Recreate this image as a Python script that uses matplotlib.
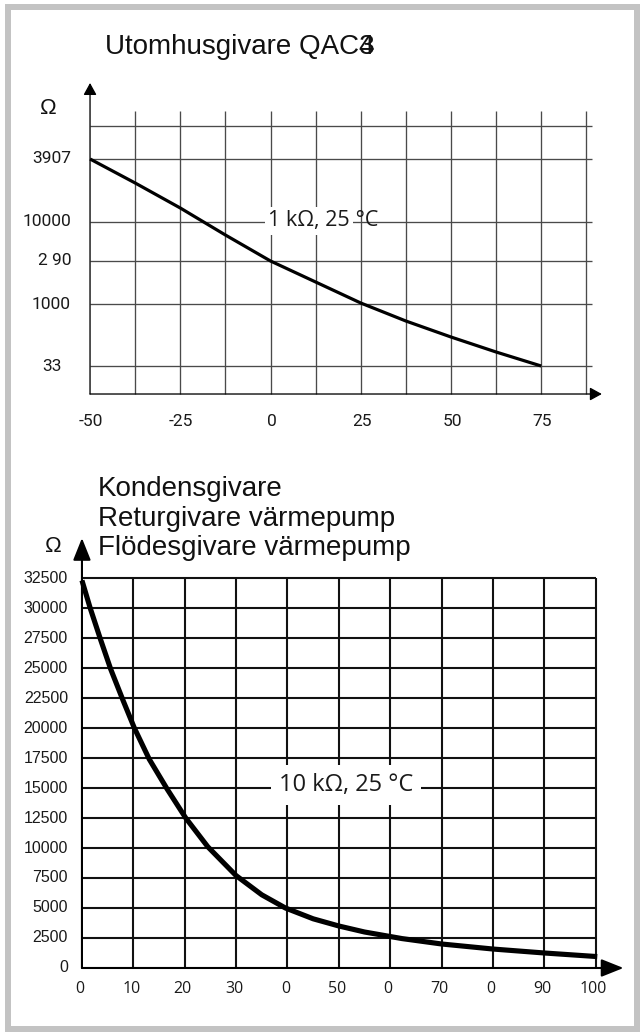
import matplotlib
matplotlib.use("Agg")
import matplotlib.pyplot as plt
from matplotlib.patches import Rectangle

# --------------------------------------------------------------
# Utomhusgivare QAC34 (1 kOhm, 25 °C)
top_temp = [-50, -37.5, -25, -12.5, 0, 12.5, 25, 37.5, 50, 62.5, 75]
top_level = [235, 211, 186, 159, 133, 112, 91, 73, 57, 42, 28]
top_xgrid = [-50, -37.5, -25, -12.5, 0, 12.5, 25, 37.5, 50, 62.5, 75, 87.5]
top_xticks = [-50, -25, 0, 25, 50, 75]
top_xticklabels = ["-50", "-25", "0", "25", "50", "75"]
top_ygrid = [28, 90, 133, 172, 235, 268]
top_yticks = [235, 172, 133, 90, 28]
top_yticklabels = ["3907", "10000", "2 90", "1000", "33"]

# Kondens-/retur-/flödesgivare (10 kOhm, 25 °C)
bot_temp = [0, 1.6, 3.6, 5.6, 8.0, 10.2, 13.1, 16.6, 20.2, 24.5, 30, 35,
            39.6, 45, 50, 55, 62.3, 70, 80, 90, 100.3]
bot_ohm = [32300, 30000, 27400, 24900, 22300, 20000, 17400, 14900, 12500,
           10100, 7700, 6100, 5000, 4100, 3500, 3000, 2450, 2000, 1580,
           1250, 950]
bot_xgrid = [0, 10, 20, 30, 40, 50, 60, 70, 80, 90, 100]
bot_xticklabels = ["0", "10", "20", "30", "0", "50", "0", "70", "0", "90", "100"]
bot_ygrid = [0, 2500, 5000, 7500, 10000, 12500, 15000, 17500, 20000,
             22500, 25000, 27500, 30000, 32500]
bot_yticklabels = ["0", "2500", "5000", "7500", "10000", "12500", "15000",
                   "17500", "20000", "22500", "25000", "27500", "30000", "32500"]
bot_titles = ["Kondensgivare", "Returgivare värmepump", "Flödesgivare värmepump"]
# --------------------------------------------------------------

fig = plt.figure(figsize=(6.4, 10.32), dpi=100)
fig.patch.set_facecolor("white")

# grå ram runt hela bilden
fig.patches.append(Rectangle((8 / 640, 3 / 1032), 629 / 640, 1022 / 1032,
                             transform=fig.transFigure, fill=False,
                             edgecolor="#c3c3c3", linewidth=4.3))

# ---------------------------- övre diagram ---------------------
ax1 = fig.add_axes([0.1294, 0.6153, 0.8234, 0.3072])
ax1.set_xlim(-52, 94)
ax1.set_ylim(-3, 314)
ax1.axis("off")

ax1.hlines(top_ygrid, -50, 89.1, color="#4a4a4a", linewidth=0.95, zorder=1)
ax1.vlines(top_xgrid[1:], 0, 283, color="#4a4a4a", linewidth=0.95, zorder=1)
ax1.plot(top_temp, top_level, color="black", linewidth=2.3,
         solid_capstyle="butt", solid_joinstyle="round", zorder=3)

arrow_small = dict(arrowstyle="-|>,head_length=0.4,head_width=0.22",
                   mutation_scale=18, color="black", linewidth=0.95,
                   shrinkA=0, shrinkB=0)
ax1.annotate("", xy=(91.8, 0), xytext=(-50, 0), arrowprops=arrow_small)
ax1.annotate("", xy=(-50, 311), xytext=(-50, 0), arrowprops=arrow_small)

for t, lab in zip(top_xticks, top_xticklabels):
    ax1.annotate(lab, xy=(t, 0), xytext=(1, -27), textcoords="offset pixels",
                 ha="center", va="center", fontsize=12.5, family="Roboto",
                 color="#1a1a1a")
for y, lab in zip(top_yticks, top_yticklabels):
    dx = -28 if lab == "33" else -19
    ax1.annotate(lab, xy=(-50, y), xytext=(dx, 0), textcoords="offset pixels",
                 ha="right", va="center", fontsize=12.5, family="Roboto",
                 color="#1a1a1a")

t1 = ax1.text(-0.7, 173, "1 k\u03a9, 25", ha="left", va="center",
              fontsize=15.5, family="Open Sans", color="#1a1a1a", zorder=5,
              bbox=dict(boxstyle="square,pad=0.15", facecolor="white",
                        edgecolor="none"))
ax1.annotate(" \u00b0C", xy=(1, 0.5), xycoords=t1, ha="left", va="center",
             fontsize=15.5, family="Open Sans", color="#1a1a1a", zorder=5)

# rubrik, 4:an ligger ovanpå 3:an
fig.text(105 / 640, 1 - 47 / 1032, "Utomhusgivare QAC3", ha="left",
         va="center", fontsize=20, family="Liberation Sans", color="#111111")
fig.canvas.draw()
rend = fig.canvas.get_renderer()
tmp = fig.text(105 / 640, 1 - 47 / 1032, "Utomhusgivare QAC", ha="left",
               va="center", fontsize=20, family="Liberation Sans")
ext = tmp.get_window_extent(rend)
tmp.remove()
fig.text((ext.x1 - 1) / 640, 1 - 47 / 1032, "4", ha="left", va="center",
         fontsize=20, family="Liberation Sans", color="#111111")

fig.text(48 / 640, 1 - 108 / 1032, "\u03a9", ha="center", va="center",
         fontsize=16, family="Liberation Sans", color="#111111")

# ---------------------------- nedre diagram --------------------
ax2 = fig.add_axes([0.1120, 0.0504, 0.875, 0.4360])
ax2.set_xlim(-2, 107)
ax2.set_ylim(-1000, 36500)
ax2.axis("off")

ax2.hlines(bot_ygrid[1:], 0, 100, color="#111111", linewidth=1.5, zorder=1)
ax2.vlines(bot_xgrid[1:], 0, 32500, color="#111111", linewidth=1.5, zorder=1)
ax2.plot(bot_temp, bot_ohm, color="black", linewidth=3.7,
         solid_capstyle="butt", solid_joinstyle="round", zorder=3)

arrow_big = dict(arrowstyle="-|>,head_length=0.4,head_width=0.16",
                 mutation_scale=34, color="black", linewidth=1.5,
                 shrinkA=0, shrinkB=0)
ax2.annotate("", xy=(105.4, 0), xytext=(0, 0), arrowprops=arrow_big)
ax2.annotate("", xy=(0, 35830), xytext=(0, 0), arrowprops=arrow_big)

for t, lab in zip(bot_xgrid, bot_xticklabels):
    ax2.annotate(lab, xy=(t, 0), xytext=(-2, -21), textcoords="offset pixels",
                 ha="center", va="center", fontsize=11.5, family="Open Sans",
                 color="#1a1a1a")
for y, lab in zip(bot_ygrid, bot_yticklabels):
    ax2.annotate(lab, xy=(0, y), xytext=(-14, 0), textcoords="offset pixels",
                 ha="right", va="center", fontsize=11.5, family="Liberation Sans",
                 color="#1a1a1a")

ax2.text(51.4, 15250, "10 k\u03a9, 25 \u00b0C", ha="center", va="center",
         fontsize=17, family="Open Sans", color="#1a1a1a", zorder=5,
         bbox=dict(boxstyle="square,pad=0.35", facecolor="white",
                   edgecolor="none"))

for i, line in enumerate(bot_titles):
    fig.text(98 / 640, 1 - (489 + 29.5 * i) / 1032, line, ha="left",
             va="center", fontsize=20, family="Liberation Sans",
             color="#111111")

fig.text(53 / 640, 1 - 547 / 1032, "\u03a9", ha="center", va="center",
         fontsize=16, family="Liberation Sans", color="#111111")

fig.savefig("out.png", dpi=100)
